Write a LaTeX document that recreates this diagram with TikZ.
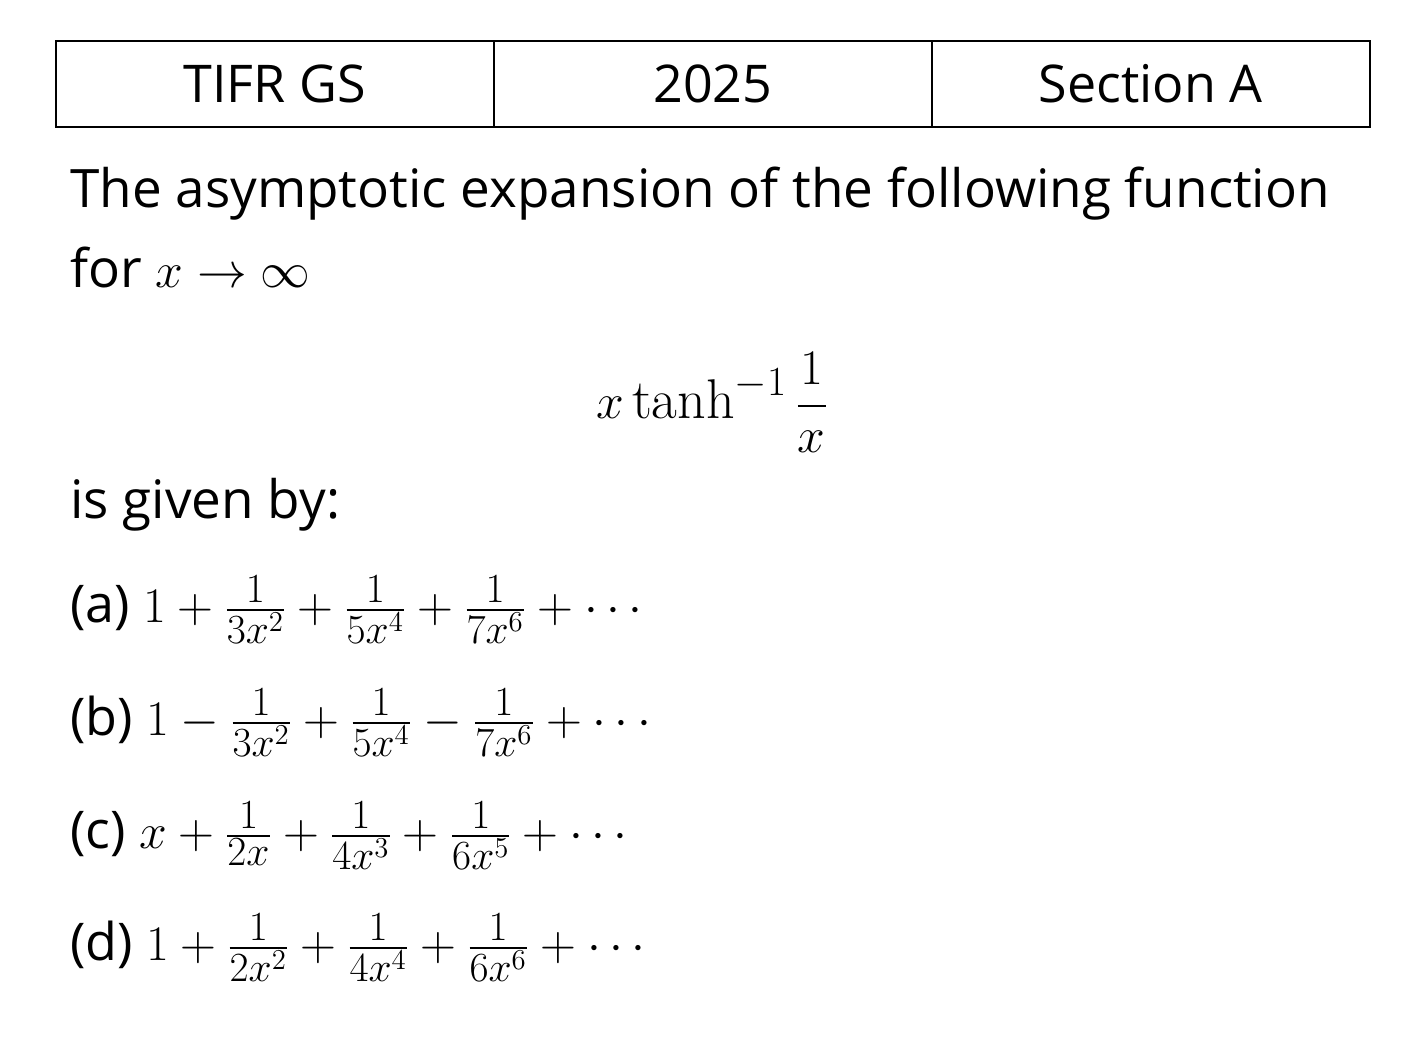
\documentclass[tikz,border=0pt]{standalone}
\usepackage{amsmath}
\usepackage{fontspec}
\setmainfont{Open Sans}
\newcommand{\rmtanh}{\mathop{\text{\fontfamily{lmr}\selectfont tanh}}\nolimits}
\begin{document}
\begin{tikzpicture}[x=0.5pt,y=-0.5pt,
  cell/.style={draw,line width=0.8pt,minimum width=438*0.5pt,minimum height=86*0.5pt,anchor=north west,inner sep=0pt,font=\fontsize{26}{30}\selectfont},
  txt/.style={anchor=base west,inner sep=0pt,font=\fontsize{26.5}{31}\selectfont},
  opt/.style={anchor=base west,inner sep=0pt,font=\fontsize{26}{31}\selectfont}]
\useasboundingbox (0,0) rectangle (1425,1043);
\node[cell] (c1) at (55,40) {TIFR GS};
\node[cell] (c2) at (493,40) {2025};
\node[cell] (c3) at (931,40) {Section A};
\node[txt] (l1) at (70,208) {The asymptotic expansion of the following function};
\node[txt] (l2) at (70,288) {for {\fontsize{28}{30}\selectfont$x\to\infty$}};
\node[txt,anchor=base] (f) at (712,418) {\fontsize{28}{32}\selectfont$x\rmtanh^{-1}\dfrac{1}{x}$};
\node[txt] (l3) at (70,518) {is given by:};
\node[opt] (a) at (70,622) {(a) {\fontsize{31}{34}\selectfont$1+\frac{1}{3x^2}+\frac{1}{5x^4}+\frac{1}{7x^6}+\cdots$}};
\node[opt] (b) at (70,735) {(b) {\fontsize{31}{34}\selectfont$1-\frac{1}{3x^2}+\frac{1}{5x^4}-\frac{1}{7x^6}+\cdots$}};
\node[opt] (c) at (70,848) {(c) {\fontsize{31}{34}\selectfont$x+\frac{1}{2x}+\frac{1}{4x^3}+\frac{1}{6x^5}+\cdots$}};
\node[opt] (d) at (70,960) {(d) {\fontsize{31}{34}\selectfont$1+\frac{1}{2x^2}+\frac{1}{4x^4}+\frac{1}{6x^6}+\cdots$}};
\end{tikzpicture}
\end{document}
